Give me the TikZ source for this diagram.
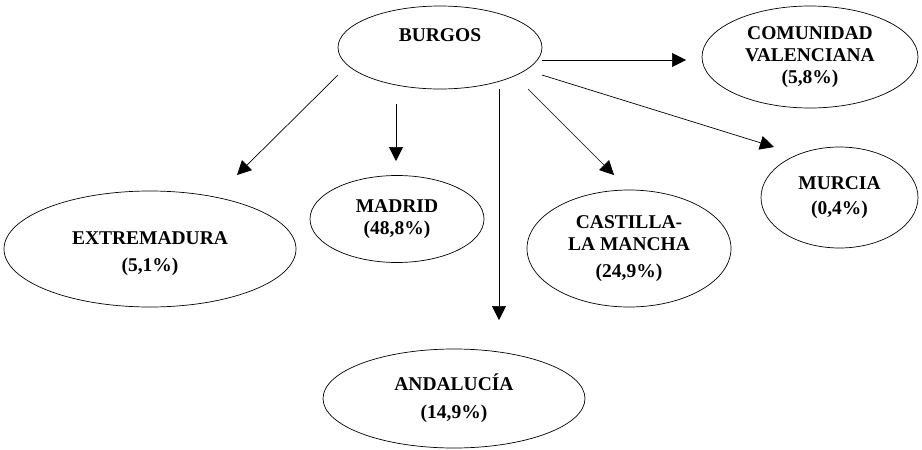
\documentclass[tikz,border=0pt]{standalone}
\usepackage{fontspec}
\setmainfont{Liberation Serif}
\usetikzlibrary{shapes.geometric,arrows.meta}

\tikzset{
  region/.style={draw, ellipse, line width=0.7pt, inner sep=0pt, align=center,
    font=\fontsize{19.5}{22}\selectfont\bfseries},
  flecha/.style={line width=0.7pt, -{Triangle[length=14pt,width=14pt]}}
}

\begin{document}
\begin{tikzpicture}[x=1pt,y=-1pt]
\useasboundingbox (0,0) rectangle (922,450);

% Origin
\node[region, minimum width=204pt, minimum height=83pt] (burgos) at (440,47.5)
  {BURGOS\rule[-25pt]{0pt}{25pt}};

% Destinations
\node[region, minimum width=216pt, minimum height=102pt] (valenciana) at (810,57)
  {COMUNIDAD\\VALENCIANA\\(5,8\%)};
\node[region, minimum width=292pt, minimum height=116pt] (extremadura) at (150,249)
  {\rule{0pt}{23pt}EXTREMADURA\\[5pt](5,1\%)};
\node[region, minimum width=174pt, minimum height=87pt] (madrid) at (397,219)
  {MADRID\\(48,8\%)};
\node[region, minimum width=204pt, minimum height=117pt] (castilla) at (629,248.5)
  {CASTILLA-\\LA MANCHA\\[5pt](24,9\%)};
\node[region, minimum width=157pt, minimum height=101pt] (murcia) at (839.5,197.5)
  {MURCIA\\[3pt](0,4\%)};
\node[region, minimum width=262pt, minimum height=99pt] (andalucia) at (454,398.5)
  {ANDALUC\'IA\\[6pt](14,9\%)};

% Flows
\foreach \n/\a/\b in {ext/{338,75}/{237,175}, mad/{396,104}/{396,161},
    and/{499,89}/{499,320}, cas/{528,89}/{614,175},
    mur/{542,75}/{774,147}, val/{542,60}/{686,60}} {
  \coordinate (a-\n) at (\a);
  \coordinate (b-\n) at (\b);
  \draw[flecha] (a-\n) -- (b-\n);
}
\end{tikzpicture}
\end{document}
